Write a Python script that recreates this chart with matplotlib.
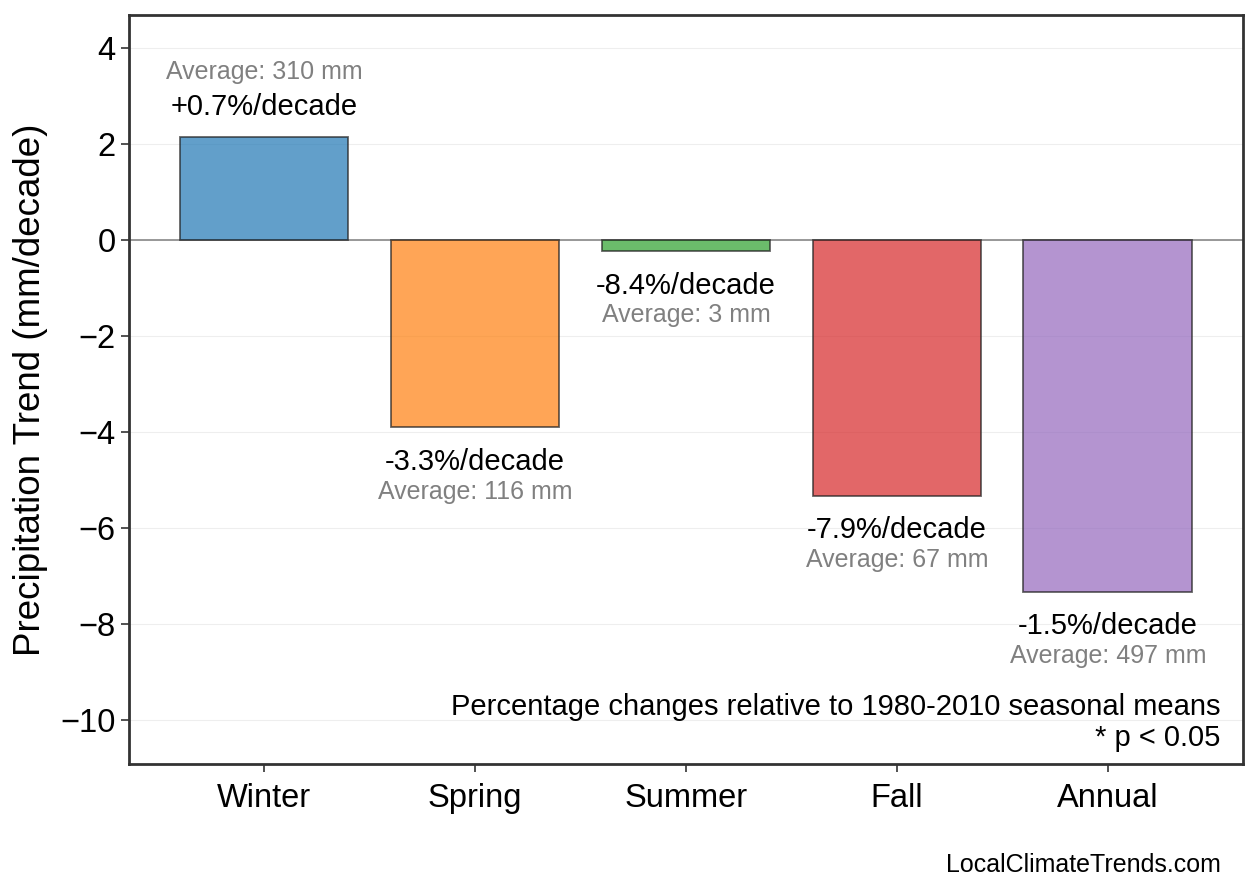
import matplotlib
matplotlib.use('Agg')
import matplotlib.pyplot as plt

# data
seasons = ['Winter', 'Spring', 'Summer', 'Fall', 'Annual']
trends = [2.15, -3.90, -0.23, -5.33, -7.33]
pct_labels = ['+0.7%/decade', '-3.3%/decade', '-8.4%/decade', '-7.9%/decade', '-1.5%/decade']
avg_labels = ['Average: 310 mm', 'Average: 116 mm', 'Average: 3 mm', 'Average: 67 mm', 'Average: 497 mm']
colors = ['tab:blue', 'tab:orange', 'tab:green', 'tab:red', 'tab:purple']
yticks = [-10, -8, -6, -4, -2, 0, 2, 4]

plt.rcParams['font.family'] = ['Liberation Sans', 'DejaVu Sans']

fig = plt.figure(figsize=(12.58, 8.93), dpi=100)
ax = fig.add_axes([0.1025, 0.1445, 0.8855, 0.8385])

x = range(len(seasons))
ax.bar(x, trends, width=0.8, color=colors, alpha=0.7, edgecolor='#222222',
       linewidth=1.3, zorder=3)
ax.axhline(0, color='#888888', linewidth=1.2, zorder=2)

for i, v in enumerate(trends):
    if v >= 0:
        ax.text(i, v + 0.62, pct_labels[i], ha='center', va='center', fontsize=21, color='black')
        ax.text(i, v + 1.35, avg_labels[i], ha='center', va='center', fontsize=18, color='#808080')
    else:
        ax.text(i, v - 0.72, pct_labels[i], ha='center', va='center', fontsize=21, color='black')
        ax.text(i, v - 1.34, avg_labels[i], ha='center', va='center', fontsize=18, color='#808080')

ax.set_ylim(-10.92, 4.69)
ax.set_yticks(yticks)
ax.set_xticks(list(x))
ax.set_xticklabels(seasons)
ax.yaxis.grid(True, color='#eeeeee', linewidth=0.8, zorder=0)
ax.set_axisbelow(True)
ax.set_ylabel('Precipitation Trend (mm/decade)', fontsize=26.5, labelpad=9)
ax.tick_params(axis='both', labelsize=23.5, length=6, width=1.2, color='#333333', direction='out')
ax.tick_params(axis='x', pad=8)

for s in ax.spines.values():
    s.set_color('#333333')
    s.set_linewidth(2)

ax.text(0.98, 0.016, 'Percentage changes relative to 1980-2010 seasonal means\n* p < 0.05',
        transform=ax.transAxes, ha='right', va='bottom', multialignment='right',
        fontsize=21, linespacing=1.15)

fig.text(0.9706, 0.031, 'LocalClimateTrends.com', ha='right', va='center', fontsize=18)

fig.savefig('out.png', dpi=100)
